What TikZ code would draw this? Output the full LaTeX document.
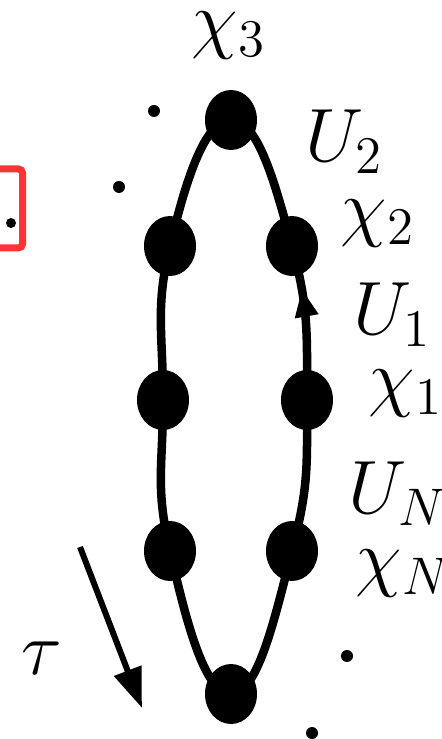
\RequirePackage{fix-cm}
\documentclass[tikz,border=0pt]{standalone}
\usetikzlibrary{arrows.meta,shapes.geometric,decorations.markings}
\definecolor{boxred}{RGB}{255,51,51}
\begin{document}
\begin{tikzpicture}[
    site/.style={ellipse, fill=black, inner sep=0pt, minimum width=0.52cm, minimum height=0.60cm},
    speck/.style={circle, fill=black, inner sep=0pt, minimum size=0.12cm},
    lbl/.style={anchor=base west, inner sep=0pt, font=\fontsize{21.5}{26}\selectfont}
]
    \useasboundingbox (0,0) rectangle (4.41,7.39);

    % 格点位置
    \coordinate (p3) at (2.31,6.19);
    \coordinate (p2L) at (1.70,4.93);
    \coordinate (p2) at (2.92,4.93);
    \coordinate (p1L) at (1.63,3.39);
    \coordinate (p1) at (3.07,3.39);
    \coordinate (pNL) at (1.70,1.88);
    \coordinate (pN) at (2.92,1.88);
    \coordinate (p0) at (2.31,0.45);

    % 闭合路径，右侧带箭头
    \draw[line width=0.085cm, postaction={decorate},
        decoration={markings, mark=at position 0.215 with {\arrow{Triangle[length=0.28cm,width=0.22cm]}}}]
        plot[smooth cycle, tension=0.8] coordinates {(p0) (pN) (p1) (p2) (p3) (p2L) (p1L) (pNL)};

    % 格点
    \node[site] (c3) at (p3) {};
    \node[site] (c2L) at (p2L) {};
    \node[site] (c2) at (p2) {};
    \node[site] (c1L) at (p1L) {};
    \node[site] (c1) at (p1) {};
    \node[site] (cNL) at (pNL) {};
    \node[site] (cN) at (pN) {};
    \node[site] (c0) at (p0) {};

    % 标签
    \node[lbl] (l3) at (1.91,6.94) {$\chi_3$};
    \node[lbl] (lU2) at (3.05,5.77) {$U_2$};
    \node[lbl] (l2) at (3.40,5.06) {$\chi_2$};
    \node[lbl] (lU1) at (3.53,4.04) {$U_1$};
    \node[lbl] (l1) at (3.68,3.36) {$\chi_1$};
    \node[lbl] (lUN) at (3.48,2.25) {$U_N$};
    \node[lbl] (lN) at (3.55,1.56) {$\chi_N$};

    % 省略点
    \node[speck] (s1) at (1.54,6.28) {};
    \node[speck] (s2) at (1.19,5.52) {};
    \node[speck, minimum size=0.10cm] (s3) at (0.11,5.16) {};
    \node[speck] (s4) at (3.47,0.83) {};
    \node[speck] (s5) at (3.12,0.06) {};

    % 红框
    \draw[boxred, line width=0.07cm, rounded corners=0.04cm] (-0.6,4.91) rectangle (0.225,5.70);

    % 虚时间方向
    \coordinate (tauS) at (0.80,1.92);
    \coordinate (tauE) at (1.42,0.31);
    \draw[line width=0.06cm, -{Triangle[length=0.40cm,width=0.28cm]}] (tauS) -- (tauE);
    \node[lbl] (ltau) at (0.21,0.64) {$\tau$};
\end{tikzpicture}
\end{document}
